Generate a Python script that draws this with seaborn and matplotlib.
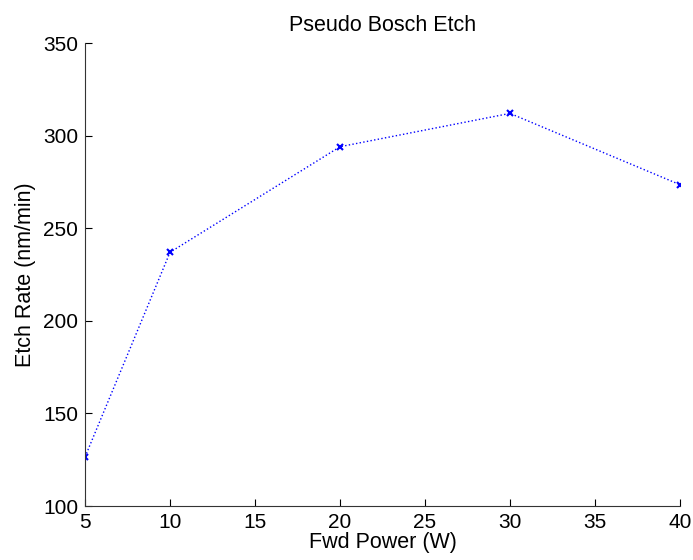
import matplotlib
matplotlib.use("Agg")
import matplotlib.pyplot as plt
import seaborn as sns
import pandas as pd

power = [5, 10, 20, 30, 40]
etch_rate = [126.5, 237, 294, 312, 273.5]
xticks = [5, 10, 15, 20, 25, 30, 35, 40]
yticks = [100, 150, 200, 250, 300, 350]

sns.set_style("ticks")
plt.rcParams['font.family'] = ['Liberation Sans', 'DejaVu Sans']

df = pd.DataFrame({"power": power, "rate": etch_rate})
fig = plt.figure(figsize=(6.93, 5.6), dpi=100)
ax = fig.add_axes([0.1227, 0.0964, 0.8585, 0.8268])
sns.lineplot(data=df, x="power", y="rate", ax=ax, color="blue",
             linestyle=":", linewidth=1, marker="x", markersize=5,
             markeredgewidth=1.5, markeredgecolor="blue")
ax.set_xlim(5, 40)
ax.set_ylim(100, 350)
ax.set_xticks(xticks)
ax.set_yticks(yticks)
ax.tick_params(direction="in", labelsize=15, length=5, width=0.8, colors="black", pad=5)
for s in ["top", "right"]:
    ax.spines[s].set_visible(False)
for s in ["left", "bottom"]:
    ax.spines[s].set_color("#333333")
    ax.spines[s].set_linewidth(0.8)
ax.set_xlabel("Fwd Power (W)", fontsize=15.5, labelpad=0, color="black")
ax.set_ylabel("Etch Rate (nm/min)", fontsize=15.5, labelpad=5, color="black")
ax.set_title("Pseudo Bosch Etch", fontsize=15.5, pad=9, color="black")
fig.savefig("out.png", dpi=100)
